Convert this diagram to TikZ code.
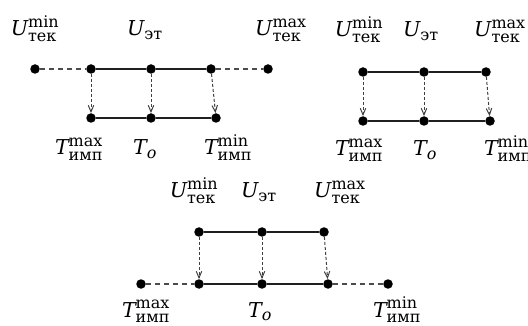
\documentclass[tikz,border=0pt]{standalone}
\usepackage{amsmath}
\usepackage{fontspec}
\setmainfont{DejaVu Serif}
\DeclareMathSizes{20.5}{20.5}{16}{12}
\usetikzlibrary{arrows.meta}
\newcommand\lblU[2]{$\textit{U}^{\text{#1}}_{\text{#2}}$}
\newcommand\lblT[2]{$\textit{T}^{\text{#1}}_{\text{#2}}$}
\newcommand\lblUe{$\textit{U}_{\text{эт}}$}
\newcommand\lblTo{$\textit{T}_{\textit{o}}$}
\tikzset{
  dot/.style={circle,fill=black,inner sep=0pt,minimum size=9.5pt},
  solidln/.style={line width=2.2pt,draw=black!88},
  dashln/.style={dash pattern=on 5pt off 4pt,line width=1.1pt,draw=black!70},
  arr/.style={-{Straight Barb[length=6.5pt,width=5.5pt]},dash pattern=on 3pt off 2pt,line width=1pt,draw=black!75},
  lbl/.style={anchor=base,inner sep=0pt,font=\fontsize{20.5}{24}\selectfont}
}
\begin{document}
\begin{tikzpicture}[x=1pt,y=-1pt]
\useasboundingbox (0,0) rectangle (528,326);
% ---------- panel 1 ----------
\node[dot] (p1a) at (35,69) {};
\node[dot] (p1b) at (91,69) {};
\node[dot] (p1c) at (151,69) {};
\node[dot] (p1d) at (211,69) {};
\node[dot] (p1e) at (268,69) {};
\node[dot] (p1f) at (91,118) {};
\node[dot] (p1g) at (151,118) {};
\node[dot] (p1h) at (216,118) {};
\draw[dashln] (p1a) -- (p1b);
\draw[solidln] (p1b) -- (p1c);
\draw[solidln] (p1c) -- (p1d);
\draw[dashln] (p1d) -- (p1e);
\draw[solidln] (p1f) -- (p1g);
\draw[solidln] (p1g) -- (p1h);
\draw[arr] (p1b) -- (p1f);
\draw[arr] (p1c) -- (p1g);
\draw[arr] (p1d) -- (p1h);
\node[lbl] (l1a) at (35,36) {\lblU{min}{тек}};
\node[lbl] (l1b) at (145,36) {\lblUe};
\node[lbl] (l1c) at (281,36) {\lblU{max}{тек}};
\node[lbl] (l1d) at (79,155) {\lblT{max}{имп}};
\node[lbl] (l1e) at (145,155) {\lblTo};
\node[lbl] (l1f) at (228,155) {\lblT{min}{имп}};
% ---------- panel 2 ----------
\node[dot] (p2a) at (363,72) {};
\node[dot] (p2b) at (424,72) {};
\node[dot] (p2c) at (486,72) {};
\node[dot] (p2d) at (363,121) {};
\node[dot] (p2e) at (424,121) {};
\node[dot] (p2f) at (490,121) {};
\draw[solidln] (p2a) -- (p2b);
\draw[solidln] (p2b) -- (p2c);
\draw[solidln] (p2d) -- (p2e);
\draw[solidln] (p2e) -- (p2f);
\draw[arr] (p2a) -- (p2d);
\draw[arr] (p2b) -- (p2e);
\draw[arr] (p2c) -- (p2f);
\node[lbl] (l2a) at (359,37) {\lblU{min}{тек}};
\node[lbl] (l2b) at (421,37) {\lblUe};
\node[lbl] (l2c) at (500,37) {\lblU{max}{тек}};
\node[lbl] (l2d) at (359,156) {\lblT{max}{имп}};
\node[lbl] (l2e) at (425,156) {\lblTo};
\node[lbl] (l2f) at (508,156) {\lblT{min}{имп}};
% ---------- panel 3 ----------
\node[dot] (p3a) at (199,232) {};
\node[dot] (p3b) at (262,232) {};
\node[dot] (p3c) at (324,232) {};
\node[dot] (p3d) at (141,284) {};
\node[dot] (p3e) at (199,284) {};
\node[dot] (p3f) at (262,284) {};
\node[dot] (p3g) at (328,284) {};
\node[dot] (p3h) at (388,284) {};
\draw[solidln] (p3a) -- (p3b);
\draw[solidln] (p3b) -- (p3c);
\draw[dashln] (p3d) -- (p3e);
\draw[solidln] (p3e) -- (p3f);
\draw[solidln] (p3f) -- (p3g);
\draw[dashln] (p3g) -- (p3h);
\draw[arr] (p3a) -- (p3e);
\draw[arr] (p3b) -- (p3f);
\draw[arr] (p3c) -- (p3g);
\node[lbl] (l3a) at (194,198) {\lblU{min}{тек}};
\node[lbl] (l3b) at (259,198) {\lblUe};
\node[lbl] (l3c) at (340,198) {\lblU{max}{тек}};
\node[lbl] (l3d) at (146,317) {\lblT{max}{имп}};
\node[lbl] (l3e) at (260,317) {\lblTo};
\node[lbl] (l3f) at (397,317) {\lblT{min}{имп}};
\end{tikzpicture}
\end{document}
